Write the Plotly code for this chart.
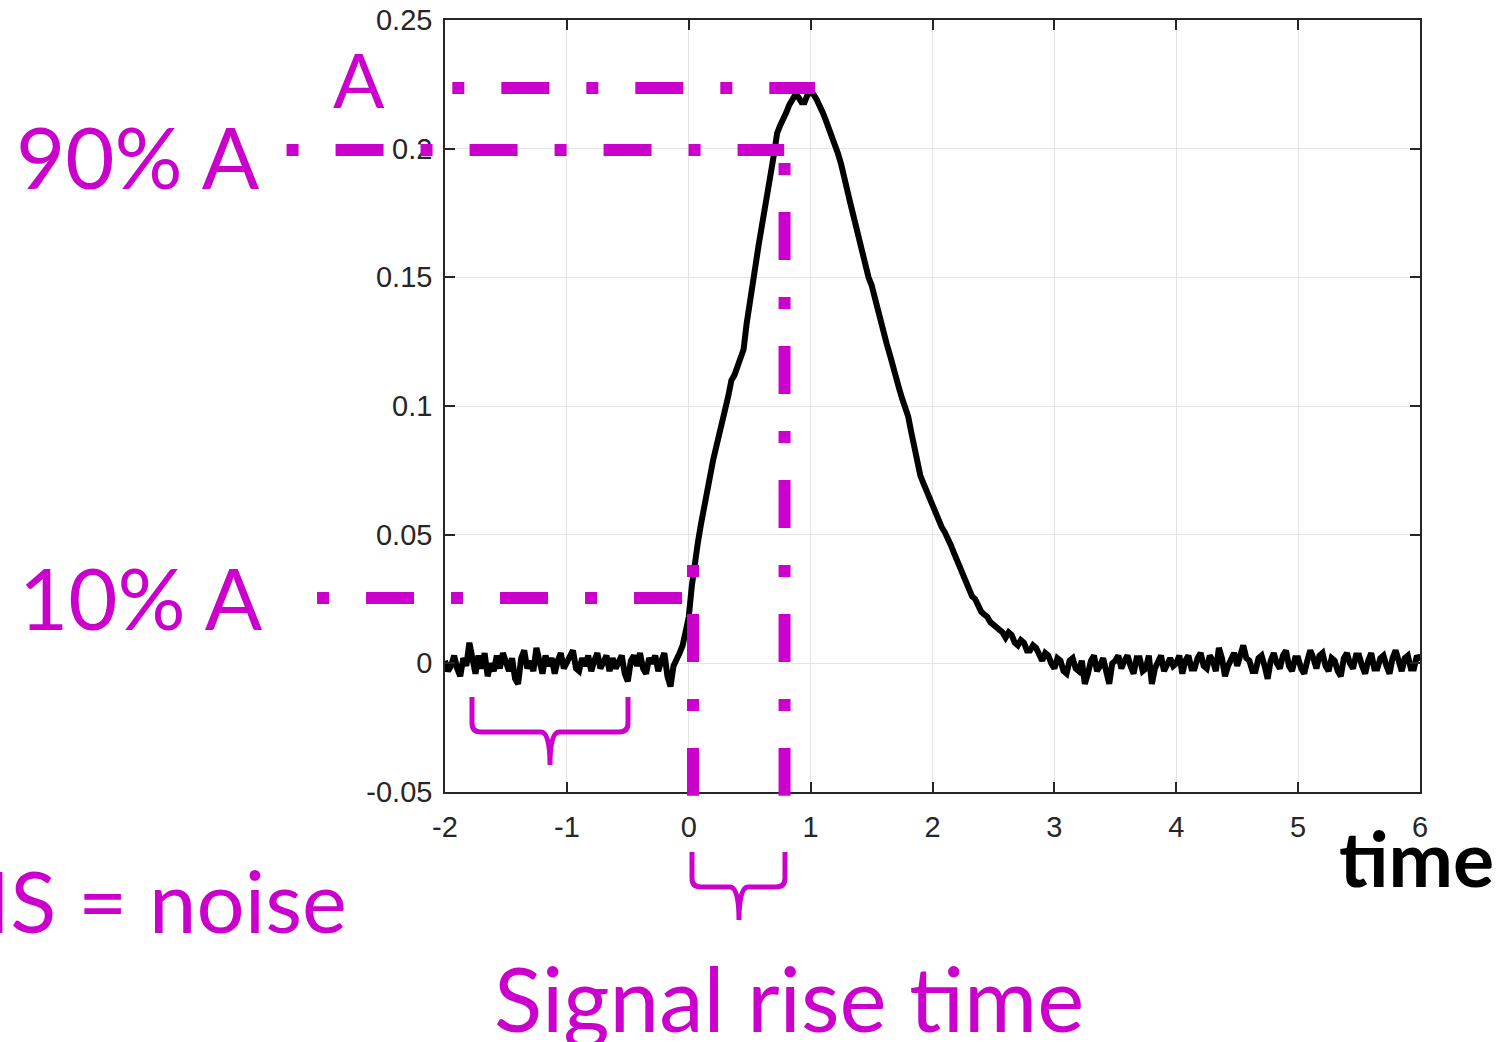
import plotly.graph_objects as go

# ---------------- data ----------------
t_start = -2.0
t_step = 0.025
# signal in thousandths, one row per 0.2 time units
signal_milli = [
    1, -3, -1, 3, -2, -5, 2, -1,          # -2.000
    8, 1, -4, 3, -2, 4, -5, 0,            # -1.800
    -3, 3, -2, 4, 1, -3, 2, -6,           # -1.600
    -8, 2, 5, -2, 1, -3, 6, 0,            # -1.400
    -4, 3, -1, 2, -4, 1, 4, -2,           # -1.200
    0, 3, 5, -2, -3, 2, -1, 3,            # -1.000
    -3, 1, 4, -2, 0, 3, -3, 2,            # -0.800
    -2, 1, 3, -4, -7, 1, 3, -1,           # -0.600
    4, -2, -4, 2, 0, 3, -3, 1,            # -0.400
    4, -5, -9, -1, 1, 4, 7, 12,           # -0.200
    18, 30, 40, 47, 54, 61, 67, 72,       # 0.000
    79, 84, 90, 95, 99, 104, 110, 112,    # 0.200
    116, 119, 122, 132, 140, 149, 158, 163,  # 0.400
    170, 176, 184, 191, 198, 206, 209, 211,  # 0.600
    214, 217, 219, 221, 220, 218, 218, 221,  # 0.800
    222, 221, 219, 217, 214, 211, 208, 205,  # 1.000
    202, 198, 194, 190, 184, 179, 174, 168,  # 1.200
    163, 158, 154, 150, 147, 142, 138, 133,  # 1.400
    129, 124, 120, 115, 111, 107, 103, 100,  # 1.600
    96, 90, 84, 78, 73, 70, 67, 64,       # 1.800
    61, 58, 55, 53, 51, 49, 46, 43,       # 2.000
    40, 38, 35, 31, 28, 26, 25, 22,       # 2.200
    20, 19, 18, 16, 15, 14, 13, 12,       # 2.400
    10, 12, 11, 8, 7, 9, 8, 5,            # 2.600
    5, 7, 6, 3, 1, 4, 3, 0,               # 2.800
    -2, 2, 1, -3, -4, 1, 2, -2,           # 3.000
    -3, 1, -8, -4, 1, 3, -3, -1,          # 3.200
    2, -3, -8, 0, 1, 3, -2, 1,            # 3.400
    3, -1, -4, 2, 2, -3, -2, 3,           # 3.600
    -8, -2, 1, 3, -3, 0, 2, -1,           # 3.800
    0, 3, -4, 1, 3, -2, -2, 2,            # 4.000
    4, -1, -2, 3, 1, -3, 6, 2,            # 4.200
    -5, -1, 2, 4, -1, 3, 7, 2,            # 4.400
    1, -3, -3, 2, 3, -1, -6, 1,           # 4.600
    4, 0, -2, 3, 5, -1, -3, 2,            # 4.800
    2, -2, -4, 1, 5, 2, -2, 3,            # 5.000
    4, -1, -3, 2, 1, -3, -5, 2,           # 5.200
    4, 0, -2, 3, 3, -1, -4, 1,            # 5.400
    4, -2, -2, 2, 3, -1, -4, 2,           # 5.600
    5, 1, -3, 2, 3, -2, -2, 3,            # 5.800
    1,                                    # 6.000
]
signal = [v / 1000 for v in signal_milli]
time = [round(t_start + t_step * i, 4) for i in range(len(signal))]

x_ticks = [-2, -1, 0, 1, 2, 3, 4, 5, 6]
x_ticktext = ["-2", "-1", "0", "1", "2", "3", "4", "5", "6"]
y_ticks = [-0.05, 0, 0.05, 0.1, 0.15, 0.2, 0.25]
y_ticktext = ["-0.05", "0", "0.05", "0.1", "0.15", "0.2", "0.25"]

# marker levels / times
A_level = 0.2236
level90 = 0.1995
level10 = 0.0254
t10 = 0.035
t90 = 0.786

X_RANGE = [-2, 6]
Y_RANGE = [-0.05, 0.25]

# ---------------- layout helpers ----------------
W, H = 1502, 1042
ML, MR, MT, MB = 445, 82, 20, 250
PW = W - ML - MR
PH = H - MT - MB


def xp(v):  # data x -> paper
    return (v - X_RANGE[0]) / (X_RANGE[1] - X_RANGE[0])


def yp(v):  # data y -> paper
    return (v - Y_RANGE[0]) / (Y_RANGE[1] - Y_RANGE[0])


def px(x):  # page pixel x -> paper
    return (x - ML) / PW


def py(y):  # page pixel y -> paper
    return (H - MB - y) / PH


MAG = "#CC00CC"
DASH = "12px,37px,48px,37px"

fig = go.Figure()
fig.add_trace(go.Scatter(
    x=time, y=signal, mode="lines",
    line=dict(color="black", width=6),
    showlegend=False, hoverinfo="skip",
))

shapes = []


def hline(y, x0, x1):
    shapes.append(dict(type="line", xref="paper", yref="paper",
                       x0=xp(x0), x1=xp(x1), y0=yp(y), y1=yp(y),
                       line=dict(color=MAG, width=12, dash=DASH), layer="above"))


def vline(x, y0, y1):
    shapes.append(dict(type="line", xref="paper", yref="paper",
                       x0=xp(x), x1=xp(x), y0=yp(y0), y1=yp(y1),
                       line=dict(color=MAG, width=12, dash=DASH), layer="above"))


hline(A_level, -1.94, 1.036)
hline(level90, -3.30, 0.783)
hline(level10, -3.05, -0.055)
vline(t90, 0.1944, -0.0515)
vline(t10, 0.0382, -0.0515)


def brace(xl, xr, top, bar, tip, xc, r=9):
    def P(x, y):
        return f"{px(x):.5f},{py(y):.5f}"
    return (f"M {P(xl, top)} L {P(xl, bar - r)} Q {P(xl, bar)} {P(xl + r, bar)} "
            f"L {P(xc - r, bar)} Q {P(xc, bar)} {P(xc, tip)} "
            f"M {P(xr, top)} L {P(xr, bar - r)} Q {P(xr, bar)} {P(xr - r, bar)} "
            f"L {P(xc + r, bar)} Q {P(xc, bar)} {P(xc, tip)}")


for b in [(472, 628, 697, 732, 765, 550), (692, 785, 852, 887, 920, 739)]:
    shapes.append(dict(type="path", xref="paper", yref="paper", path=brace(*b),
                       line=dict(color=MAG, width=5), layer="above"))

ann_font = "Lato, Noto Sans, sans-serif"
annotations = [
    dict(text="A", x=px(359), y=py(78), xanchor="center", yanchor="middle", size=76),
    dict(text="90% A", x=px(14), y=py(156), xanchor="left", yanchor="middle", size=85),
    dict(text="10% A", x=px(17), y=py(597), xanchor="left", yanchor="middle", size=85),
    dict(text="RMS = noise", x=px(349), y=py(900), xanchor="right", yanchor="middle", size=85),
    dict(text="Signal rise time", x=px(492), y=py(997), xanchor="left", yanchor="middle", size=89),
]
ann_list = []
for a in annotations:
    ann_list.append(dict(text=a["text"], x=a["x"], y=a["y"], xref="paper", yref="paper",
                         xanchor=a["xanchor"], yanchor=a["yanchor"], showarrow=False,
                         font=dict(family=ann_font, size=a["size"], color=MAG)))
ann_list.append(dict(text="<b>time</b>", x=px(1337), y=py(857), xref="paper", yref="paper",
                     xanchor="left", yanchor="middle", showarrow=False,
                     font=dict(family=ann_font, size=77, color="black")))

axis_common = dict(
    showgrid=True, gridcolor="#e4e4e4", gridwidth=1,
    showline=True, linecolor="#262626", linewidth=1.5, mirror="ticks",
    ticks="inside", ticklen=10, tickcolor="#262626", tickwidth=1.5,
    zeroline=False, automargin=False,
    tickfont=dict(family="Liberation Sans, Arial, sans-serif", size=29, color="#262626"),
)

fig.update_layout(
    width=W, height=H,
    margin=dict(l=ML, r=MR, t=MT, b=MB, autoexpand=False),
    paper_bgcolor="white", plot_bgcolor="white",
    xaxis=dict(range=X_RANGE, tickvals=x_ticks, ticktext=x_ticktext,
               ticklabelstandoff=8, **axis_common),
    yaxis=dict(range=Y_RANGE, tickvals=y_ticks, ticktext=y_ticktext,
               ticklabelstandoff=5, **axis_common),
    shapes=shapes,
    annotations=ann_list,
    showlegend=False,
)

fig.write_html("out.html")
